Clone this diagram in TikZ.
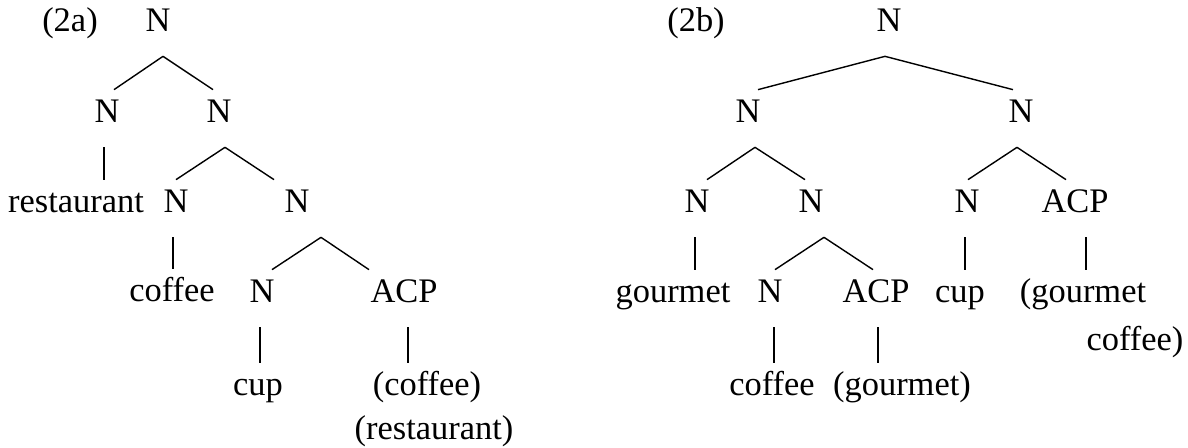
\documentclass[tikz,border=0pt]{standalone}
\usepackage{fontspec}
\setmainfont{Liberation Serif}
\usetikzlibrary{calc}

\begin{document}
\begin{tikzpicture}[x=0.02cm,y=-0.02cm,
    every node/.style={font=\fontsize{19.6}{23.5}\selectfont,inner sep=0pt,
      anchor=base,text height=0.66cm,text depth=0.48cm},
    branch/.style={line width=0.8pt}]
  \useasboundingbox (0,0) rectangle (1188,448);

  % tree (2a)
  \node (lbla) at (70,32)  {(2a)};
  \node (a0)   at (158,32) {N};
  \node (a1)   at (107,123) {N};
  \node (a2)   at (219,123) {N};
  \node (a3)   at (76,213)  {restaurant};
  \node (a4)   at (176,213) {N};
  \node (a5)   at (297,213) {N};
  \node (a6)   at (172,302) {coffee};
  \node (a7)   at (262,303) {N};
  \node (a8)   at (404,303) {ACP};
  \node (a9)   at (258,396) {cup};
  \node (a10)  at (427,396) {(coffee)};
  \node (a11)  at (434,440) {(restaurant)};

  % tree (2b)
  \node (lblb) at (696,32)  {(2b)};
  \node (b0)   at (889,32)  {N};
  \node (b1)   at (748,123) {N};
  \node (b2)   at (1021,123) {N};
  \node (b3)   at (697,213) {N};
  \node (b4)   at (811,213) {N};
  \node (b5)   at (967,213) {N};
  \node (b6)   at (1075,213) {ACP};
  \node (b7)   at (673,303) {gourmet};
  \node (b8)   at (770,303) {N};
  \node (b9)   at (876,303) {ACP};
  \node (b10)  at (960,303) {cup};
  \node (b11)  at (1083,303) {(gourmet};
  \node (b12)  at (1135,351) {coffee)};
  \node (b13)  at (772,396) {coffee};
  \node (b14)  at (902,396) {(gourmet)};

  % branches: parent/shift/child/shift
  \foreach \p/\dp/\c/\dc in {a0/5/a1/7, a0/5/a2/-6, a1/-3/a3/28,
      a2/6/a4/0, a2/6/a5/-23, a4/-3/a6/1, a5/24/a7/10, a5/24/a8/-35,
      a7/-2/a9/2, a8/4/a10/-19,
      b0/-4/b1/10, b0/-4/b2/-8, b1/7/b3/10, b1/7/b4/-6,
      b2/-4/b5/1, b2/-4/b6/-9, b3/-2/b7/22, b4/13/b8/5, b4/13/b9/-3,
      b5/-2/b10/5, b6/11/b11/3, b8/4/b13/2, b9/2/b14/-24}
    \draw[branch] ($(\p.south)+(\dp,0)$) -- ($(\c.north)+(\dc,0)$);
\end{tikzpicture}
\end{document}
